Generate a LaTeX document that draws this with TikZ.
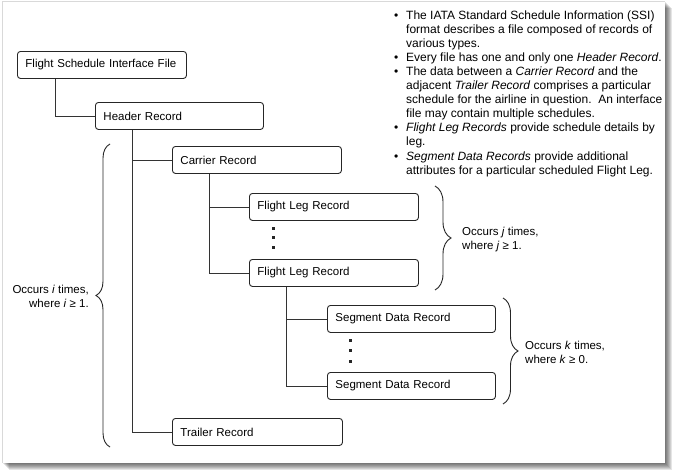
\documentclass[tikz,border=0pt]{standalone}
\usepackage{fontspec}
\setmainfont{Liberation Sans}
\usetikzlibrary{decorations.pathreplacing}
\begin{document}
\begin{tikzpicture}[x=1pt,y=-1pt,
  rec/.style={draw=black!85, line width=0.9pt, rounded corners=3pt, anchor=north west,
    minimum height=27pt, inner xsep=8pt, inner ysep=0pt, align=left,
    font=\fontsize{11.5}{13}\selectfont},
  conn/.style={draw=black!80, line width=0.9pt},
  lbl/.style={font=\fontsize{11.5}{14}\selectfont, inner sep=0pt},
  brc/.style={draw=black!85, line width=0.9pt, decorate},
  dotsq/.style={fill=black!85}
]
\useasboundingbox (0,0) rectangle (674,471);
% page shadow
\foreach \i in {1,...,7}{
  \fill[black, opacity=0.1] (2+\i,1+\i) rectangle (665+\i,463+\i);
}
\fill[white] (2,1) rectangle (665,463);
\draw[black!15, line width=0.6pt] (2,463) -- (2,1) -- (665,1);

% boxes
\node[rec, text width=153pt] (fsif) at (17,51) {Flight Schedule Interface File};
\node[rec, text width=152pt] (hdr) at (95,102) {Header Record};
\node[rec, text width=153pt] (car) at (172,146) {Carrier Record};
\node[rec, text width=153pt] (fl1) at (249,193) {Flight Leg Record};
\node[rec, text width=153pt] (fl2) at (249,259) {Flight Leg Record};
\node[rec, text width=152pt] (sd1) at (327,305) {Segment Data Record};
\node[rec, text width=152pt] (sd2) at (327,372) {Segment Data Record};
\node[rec, text width=154pt] (trl) at (172,418) {Trailer Record};

% connectors
\draw[conn] ([xshift=38pt]fsif.south west) |- (hdr.west);
\draw[conn] ([xshift=37pt]hdr.south west) |- (car.west);
\draw[conn] ([xshift=37pt]hdr.south west) |- (trl.west);
\draw[conn] ([xshift=37pt]car.south west) |- (fl1.west);
\draw[conn] ([xshift=37pt]car.south west) |- (fl2.west);
\draw[conn] ([xshift=37pt]fl2.south west) |- (sd1.west);
\draw[conn] ([xshift=37pt]fl2.south west) |- (sd2.west);

% vertical ellipsis dots
\foreach \y in {228,237.5,247}{\fill[dotsq] (271.5,\y-1.5) rectangle (274.5,\y+1.5);}
\foreach \y in {340,350.5,361}{\fill[dotsq] (348.5,\y-1.5) rectangle (351.5,\y+1.5);}

% braces
\draw[brc, decoration={brace, amplitude=14pt}] (110,447) -- (110,144);
\draw[brc, decoration={brace, amplitude=16pt}] (435,186) -- (435,290);
\draw[brc, decoration={brace, amplitude=15pt}] (503,298) -- (503,404);

% brace labels
\node[lbl, anchor=east, align=right] (li) at (89,296) {Occurs \textit{i} times,\\where \textit{i} ≥ 1.};
\node[lbl, anchor=west, align=left] (lj) at (462,240) {Occurs \textit{j} times,\\where \textit{j} ≥ 1.};
\node[lbl, anchor=west, align=left] (lk) at (525,352) {Occurs \textit{k} times,\\where \textit{k} ≥ 0.};

% notes
\node[anchor=north west, inner sep=0pt, font=\fontsize{12}{14.1}\selectfont] (notes) at (394,9) {%
\begin{tabular}{@{}p{12pt}@{}l@{}}
\textbullet & The IATA Standard Schedule Information (SSI)\\
 & format describes a file composed of records of\\
 & various types.\\
\textbullet & Every file has one and only one \textit{Header Record}.\\
\textbullet & The data between a \textit{Carrier Record} and the\\
 & adjacent \textit{Trailer Record} comprises a particular\\
 & schedule for the airline in question.\ \ An interface\\
 & file may contain multiple schedules.\\
\textbullet & \textit{Flight Leg Records} provide schedule details by\\
 & leg.\\
\textbullet & \textit{Segment Data Records} provide additional\\
 & attributes for a particular scheduled Flight Leg.\\
\end{tabular}};
\end{tikzpicture}
\end{document}
